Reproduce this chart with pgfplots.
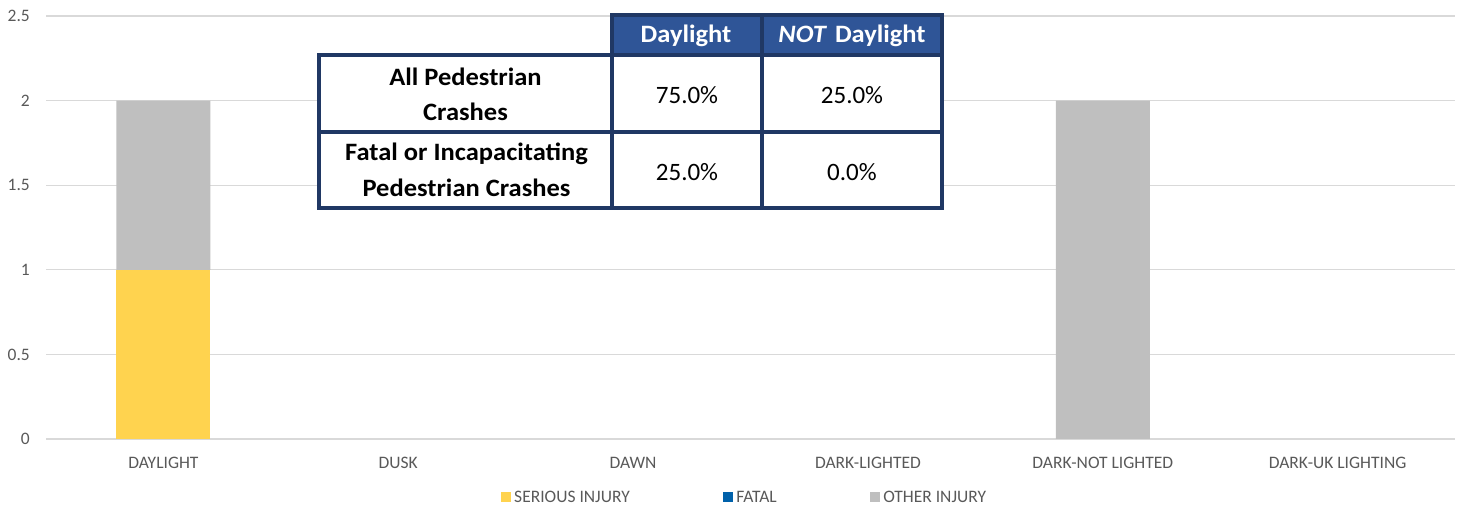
\documentclass[border=0pt]{standalone}
\usepackage{pgfplots}
\pgfplotsset{compat=1.18}
\usepackage{fontspec}
\setmainfont{Carlito}
\newfontfamily\wideb[FakeStretch=1.06]{Carlito}
\definecolor{serious}{HTML}{FFD34F}
\definecolor{fatal}{HTML}{0061AA}
\definecolor{other}{HTML}{BFBFBF}
\definecolor{gridc}{HTML}{D9D9D9}
\definecolor{txt}{HTML}{595959}
\definecolor{navy}{HTML}{203864}
\definecolor{hdr}{HTML}{2F5597}
\begin{document}
\begin{tikzpicture}[x=1pt,y=1pt]
\useasboundingbox (0,0) rectangle (1460,506);
\begin{axis}[
  at={(46pt,67pt)}, anchor=south west,
  scale only axis, width=1409pt, height=423pt,
  xmin=-0.5, xmax=5.5, ymin=0, ymax=2.5,
  ybar stacked, bar width=94pt,
  axis line style={draw=none},
  major tick length=0pt,
  ymajorgrids, grid style={gridc, line width=1.3pt},
  ytick={0,0.5,1,1.5,2,2.5},
  xtick={0,1,2,3,4,5},
  xticklabels={DAYLIGHT,DUSK,DAWN,DARK-LIGHTED,DARK-NOT LIGHTED,DARK-UK LIGHTING},
  /pgf/number format/assume math mode=true,
  tick label style={font=\fontsize{17.5}{20}\selectfont, text=txt},
  yticklabel style={anchor=east, inner sep=0pt, xshift=-16pt},
  xticklabel style={anchor=north, inner sep=0pt, yshift=-18pt},
  legend columns=3,
  legend style={draw=none, fill=none, at={(0.4957,-0.139)}, anchor=center,
    font=\fontsize{17.5}{20}\selectfont, text=txt,
    /tikz/every odd column/.append style={column sep=1.5pt},
    /tikz/every even column/.append style={column sep=91pt}},
  legend image code/.code={\fill[#1,draw=none] (0pt,-4.5pt) rectangle (10pt,5.5pt);},
]
\addplot[fill=serious, draw=none] coordinates {(0,1) (1,0) (2,0) (3,0) (4,0) (5,0)};
\addplot[fill=fatal, draw=none] coordinates {(0,0) (1,0) (2,0) (3,0) (4,0) (5,0)};
\addplot[fill=other, draw=none] coordinates {(0,1) (1,0) (2,0) (3,0) (4,2) (5,0)};
\legend{SERIOUS INJURY, FATAL, OTHER INJURY}
\end{axis}
% summary table
\fill[white] (319,451) rectangle (942,298);
\fill[hdr] (612,491) rectangle (942,451);
\draw[navy, line width=3.5pt] (612,491) rectangle (942,451);
\draw[navy, line width=3.5pt] (319,451) rectangle (942,298);
\draw[navy, line width=3.5pt] (319,374) -- (942,374);
\draw[navy, line width=3.5pt] (612,491) -- (612,298);
\draw[navy, line width=3.5pt] (762,491) -- (762,298);
\begin{scope}[every node/.style={inner sep=0pt, anchor=base, font=\fontsize{25}{30}\selectfont}]
\node[text=white] at (686,463) {\wideb\bfseries Daylight};
\node[text=white] at (852,463) {\wideb\bfseries\itshape NOT\upshape\hspace{9pt}Daylight};
\node at (465.5,420.3) {\wideb\bfseries All Pedestrian};
\node at (465.5,385.3) {\wideb\bfseries Crashes};
\node at (466.5,345) {\wideb\bfseries Fatal or Incapacitating};
\node at (466.5,309.3) {\wideb\bfseries Pedestrian Crashes};
\node at (687,402.3) {75.0\%};
\node at (852,402.3) {25.0\%};
\node at (687,325.3) {25.0\%};
\node at (852,325.3) {0.0\%};
\end{scope}
\end{tikzpicture}
\end{document}
